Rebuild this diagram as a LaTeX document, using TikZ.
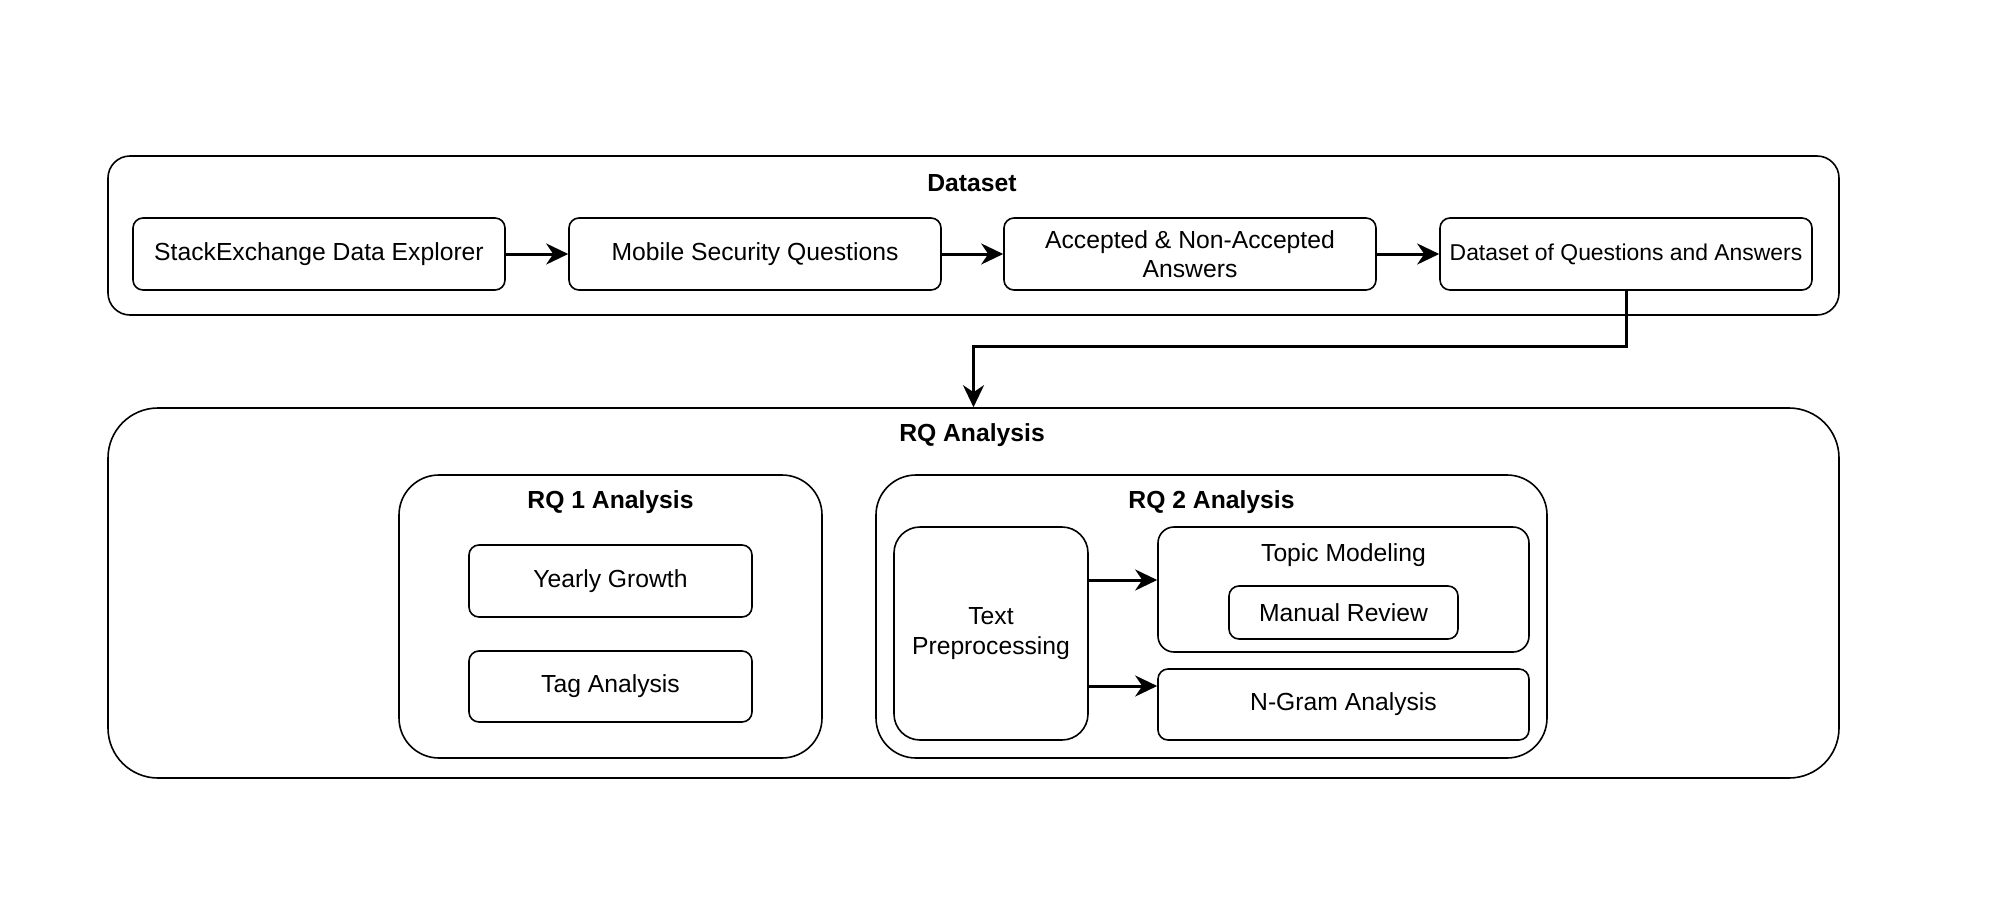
\documentclass[tikz,border=0pt]{standalone}
\usepackage{fontspec}
\setmainfont{Liberation Sans}
\usetikzlibrary{arrows.meta,calc}
\begin{document}
\begin{tikzpicture}[x=1pt,y=-1pt,
  base/.style={draw=black, line width=1.6pt, fill=white, inner sep=0pt, align=center,
    font=\fontsize{24.7}{29.5}\selectfont},
  box/.style={base, rounded corners=10pt},
  container/.style={base, rounded corners=#1},
  title/.style={font=\fontsize{24.7}{29.5}\selectfont\bfseries, inner sep=0pt},
  arr/.style={draw=black, line width=3pt, -{Stealth[length=22pt,width=21pt,inset=7pt]}}
]
\useasboundingbox (0,0) rectangle (2011,910);

% Dataset container
\node[container=22pt, minimum width=1731pt, minimum height=159pt] (ds) at (973.5,235.5) {};
\node[title] (dst) at (972,183.5) {Dataset};
\node[box, minimum width=372pt, minimum height=72pt] (se) at (319,254) {StackExchange Data Explorer};
\node[box, minimum width=372pt, minimum height=72pt] (msq) at (755,254) {Mobile Security Questions};
\node[box, minimum width=372pt, minimum height=72pt] (ana) at (1190,254) {Accepted \& Non-Accepted\\Answers};
\node[box, minimum width=372pt, minimum height=72pt, font=\fontsize{22.9}{27}\selectfont] (dqa) at (1626,254) {Dataset of Questions and Answers};

% RQ container
\node[container=50pt, minimum width=1731pt, minimum height=370pt] (rq) at (973.5,593) {};
\node[title] (rqt) at (972,435) {RQ Analysis};

% RQ1
\node[container=40pt, minimum width=423pt, minimum height=283pt] (rq1) at (610.5,616.5) {};
\node[title] (rq1t) at (610.5,502) {RQ 1 Analysis};
\node[box, minimum width=283pt, minimum height=72pt] (yg) at (610.5,581) {Yearly Growth};
\node[box, minimum width=283pt, minimum height=71pt] (ta) at (610.5,686.5) {Tag Analysis};

% RQ2
\node[container=40pt, minimum width=671pt, minimum height=283pt] (rq2) at (1211.5,616.5) {};
\node[title] (rq2t) at (1211.5,502) {RQ 2 Analysis};
\node[container=26pt, minimum width=194pt, minimum height=213pt] (tp) at (991,633.5) {Text\\Preprocessing};
\node[container=16pt, minimum width=371pt, minimum height=125pt] (tm) at (1343.5,589.5) {};
\node[font=\fontsize{24.7}{29.5}\selectfont, inner sep=0pt] (tmt) at (1343.5,555.5) {Topic Modeling};
\node[box, minimum width=229pt, minimum height=53pt] (mr) at (1343.5,612.5) {Manual Review};
\node[box, minimum width=371pt, minimum height=71pt] (ng) at (1343.5,704.5) {N-Gram Analysis};

% connectors
\draw[arr] (se.east) -- (msq.west);
\draw[arr] (msq.east) -- (ana.west);
\draw[arr] (ana.east) -- (dqa.west);
\draw[arr] (dqa.south) -- ++(0,56) -| (rq.north);
\coordinate (ya) at (0,580);
\coordinate (yb) at (0,686);
\draw[arr] (tp.east |- ya) -- (tm.west |- ya);
\draw[arr] (tp.east |- yb) -- (ng.west |- yb);
\end{tikzpicture}
\end{document}
